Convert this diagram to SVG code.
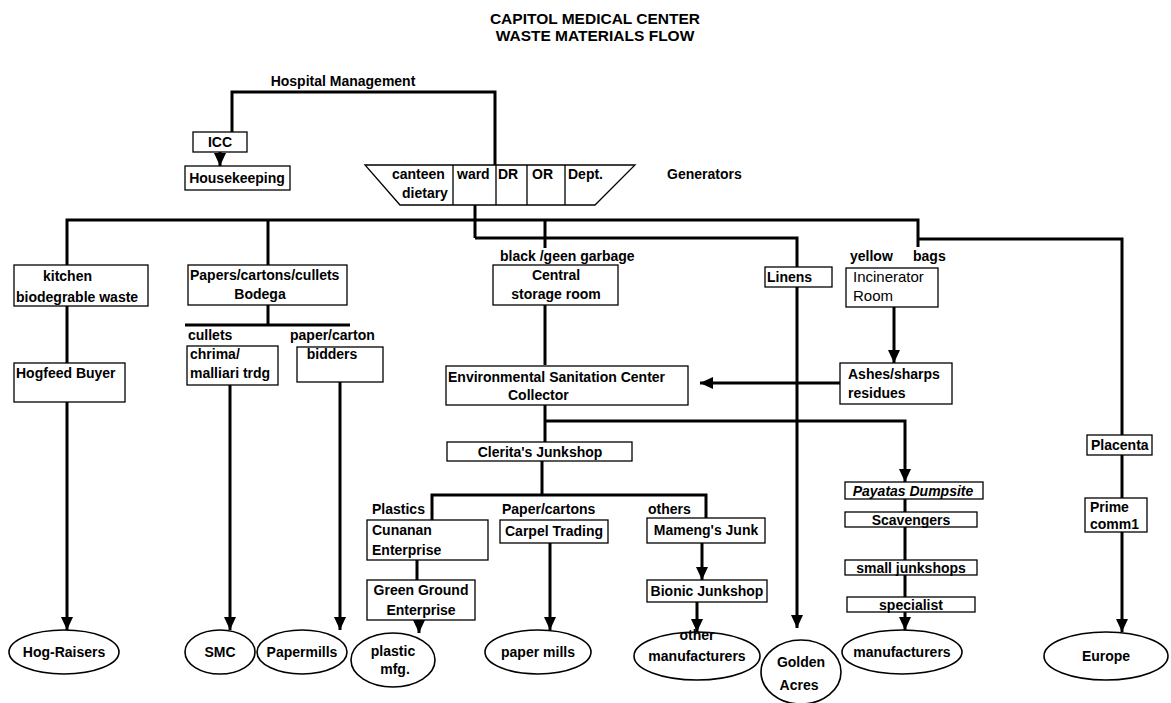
<svg xmlns="http://www.w3.org/2000/svg" width="1171" height="703" viewBox="0 0 1171 703">
<defs>
<marker id="ah" markerWidth="14" markerHeight="14" refX="13" refY="7" orient="auto" markerUnits="userSpaceOnUse"><path d="M0,1 L13,7 L0,13 Z" fill="#000"/></marker>
<style>
.t{font-family:"Liberation Sans",Arial,sans-serif;font-size:14px;font-weight:bold;fill:#000}
.m{text-anchor:middle}
.r{font-weight:normal}
.b{fill:#fff;stroke:#000;stroke-width:1.3}
.e{fill:#fff;stroke:#000;stroke-width:1.6}
.c{fill:none;stroke:#000;stroke-width:3}
.a{marker-end:url(#ah)}
</style>
</defs>
<rect width="1171" height="703" fill="#fff"/>

<g id="title">
<text class="t m" x="595" y="24" style="font-size:15.5px">CAPITOL MEDICAL CENTER</text>
<text class="t m" x="595" y="41" style="font-size:15.5px">WASTE MATERIALS FLOW</text>
</g>

<g id="connectors">
<path class="c" d="M232,132 V92 H495 V165"/>
<path class="c a" d="M220,152 V166"/>
<path class="c" d="M475,205 V238"/>
<path class="c" d="M67,265 V220 H918 V247"/>
<path class="c" d="M268,220 V265"/>
<path class="c" d="M545,220 V248"/>
<path class="c" d="M475,238 H797 V267"/>
<path class="c a" d="M797,287 V628"/>
<path class="c" d="M918,239 H1122 V435"/>
<path class="c" d="M67,306 V363"/>
<path class="c a" d="M67,402 V630"/>
<path class="c" d="M268,305 V325 M185,325 H350"/>
<path class="c a" d="M230,385 V630"/>
<path class="c a" d="M340,382 V630"/>
<path class="c" d="M545,305 V365"/>
<path class="c" d="M545,405 V442"/>
<path class="c a" d="M545,421 H905 V482"/>
<path class="c a" d="M894,307 V363"/>
<path class="c a" d="M840,383 H700"/>
<path class="c" d="M542,461 V495 M432,520 V495 H706 V518"/>
<path class="c" d="M417,560 V580"/>
<path class="c a" d="M419,620 V633"/>
<path class="c a" d="M550,543 V630"/>
<path class="c a" d="M702,543 V580"/>
<path class="c a" d="M697,602 V632"/>
<path class="c" d="M905,499 V512 M905,527 V560 M905,575 V597"/>
<path class="c a" d="M905,612 V630"/>
<path class="c" d="M1122,455 V498"/>
<path class="c a" d="M1122,532 V632"/>
</g>

<g id="hospital-management"><text class="t m" x="343" y="86">Hospital Management</text></g>

<g id="icc"><rect class="b" x="193" y="132" width="54" height="20"/><text class="t m" x="220" y="147">ICC</text></g>

<g id="housekeeping"><rect class="b" x="185" y="166" width="105" height="24"/><text class="t m" x="237" y="183">Housekeeping</text></g>

<g id="generators">
<polygon class="b" points="365,165 635,165 595,205 400,205"/>
<path d="M453,165 V205 M496,165 V205 M527,165 V205 M565,165 V205" stroke="#000" stroke-width="1.3"/>
<text class="t" x="392" y="179">canteen</text>
<text class="t" x="402" y="198">dietary</text>
<text class="t" x="457" y="179">ward</text>
<text class="t" x="498" y="179">DR</text>
<text class="t" x="532" y="179">OR</text>
<text class="t" x="568" y="179">Dept.</text>
<text class="t" x="667" y="179">Generators</text>
</g>

<g id="kitchen"><rect class="b" x="14" y="265" width="134" height="41"/><text class="t" x="43" y="281">kitchen</text><text class="t" x="16" y="302">biodegrable waste</text></g>

<g id="hogfeed"><rect class="b" x="14" y="363" width="111" height="39"/><text class="t" x="16" y="378">Hogfeed Buyer</text></g>

<g id="papers"><rect class="b" x="188" y="265" width="159" height="40"/><text class="t" x="190" y="280">Papers/cartons/cullets</text><text class="t m" x="260" y="299">Bodega</text></g>

<g id="cullets-label"><text class="t" x="188" y="340">cullets</text></g>
<g id="chrima"><rect class="b" x="187" y="346" width="91" height="39"/><text class="t" x="190" y="359">chrima/</text><text class="t" x="190" y="378">malliari trdg</text></g>

<g id="paper-carton-label"><text class="t" x="290" y="340">paper/carton</text></g>
<g id="bidders"><rect class="b" x="297" y="347" width="86" height="35"/><text class="t m" x="332" y="359">bidders</text></g>

<g id="black-label"><text class="t" x="500" y="261">black /geen garbage</text></g>
<g id="central"><rect class="b" x="493" y="265" width="125" height="40"/><text class="t m" x="556" y="280">Central</text><text class="t m" x="556" y="299">storage room</text></g>

<g id="linens"><rect class="b" x="765" y="267" width="67" height="20"/><text class="t" x="767" y="282">Linens</text></g>

<g id="yellow-label"><text class="t" x="850" y="261">yellow</text><text class="t" x="913" y="261">bags</text></g>
<g id="incinerator"><rect class="b" x="846" y="268" width="92" height="39"/><text class="t r" x="853" y="282" style="font-size:15px">Incinerator</text><text class="t r" x="853" y="301" style="font-size:15px">Room</text></g>

<g id="ashes"><rect class="b" x="840" y="363" width="112" height="41"/><text class="t" x="848" y="379">Ashes/sharps</text><text class="t" x="848" y="398">residues</text></g>

<g id="esc"><rect class="b" x="446" y="366" width="242" height="39"/><text class="t" x="448" y="382">Environmental Sanitation Center</text><text class="t" x="508" y="400">Collector</text></g>

<g id="clerita"><rect class="b" x="447" y="442" width="185" height="19"/><text class="t m" x="540" y="457">Clerita's Junkshop</text></g>

<g id="plastics-label"><text class="t" x="372" y="514">Plastics</text></g>
<g id="cunanan"><rect class="b" x="367" y="520" width="121" height="40"/><text class="t" x="372" y="535">Cunanan</text><text class="t" x="372" y="555">Enterprise</text></g>
<g id="greenground"><rect class="b" x="367" y="580" width="108" height="40"/><text class="t m" x="421" y="595">Green Ground</text><text class="t m" x="421" y="615">Enterprise</text></g>

<g id="paper-cartons-label"><text class="t" x="502" y="514">Paper/cartons</text></g>
<g id="carpel"><rect class="b" x="500" y="520" width="108" height="23"/><text class="t m" x="554" y="536">Carpel Trading</text></g>

<g id="others-label"><text class="t" x="648" y="514">others</text></g>
<g id="mameng"><rect class="b" x="647" y="518" width="118" height="25"/><text class="t m" x="706" y="535">Mameng's Junk</text></g>
<g id="bionic"><rect class="b" x="647" y="580" width="120" height="22"/><text class="t m" x="707" y="596">Bionic Junkshop</text></g>

<g id="payatas"><rect class="b" x="845" y="482" width="138" height="17"/><text class="t m" x="913" y="496" style="font-style:italic">Payatas Dumpsite</text></g>
<g id="scavengers"><rect class="b" x="845" y="512" width="132" height="15"/><text class="t m" x="911" y="525">Scavengers</text></g>
<g id="smalljunk"><rect class="b" x="845" y="560" width="132" height="15"/><text class="t m" x="911" y="573">small junkshops</text></g>
<g id="specialist"><rect class="b" x="847" y="597" width="128" height="15"/><text class="t m" x="911" y="610">specialist</text></g>

<g id="placenta"><rect class="b" x="1087" y="435" width="65" height="20"/><text class="t" x="1091" y="450">Placenta</text></g>
<g id="prime"><rect class="b" x="1085" y="498" width="62" height="34"/><text class="t" x="1090" y="512">Prime</text><text class="t" x="1090" y="529">comm1</text></g>

<g id="hog-raisers"><ellipse class="e" cx="64" cy="652" rx="55" ry="22"/><text class="t m" x="64" y="657">Hog-Raisers</text></g>
<g id="smc"><ellipse class="e" cx="220" cy="652" rx="35" ry="22"/><text class="t m" x="220" y="657">SMC</text></g>
<g id="papermills"><ellipse class="e" cx="302" cy="652" rx="45" ry="22"/><text class="t m" x="302" y="657">Papermills</text></g>
<g id="plastic-mfg"><ellipse class="e" cx="393" cy="660" rx="42" ry="27"/><text class="t m" x="393" y="656">plastic</text><text class="t m" x="395" y="674">mfg.</text></g>
<g id="paper-mills"><ellipse class="e" cx="538" cy="652" rx="53" ry="22"/><text class="t m" x="538" y="657">paper mills</text></g>
<g id="other-manufacturers"><ellipse class="e" cx="697" cy="656" rx="63" ry="24"/><text class="t m" x="697" y="640">other</text><text class="t m" x="697" y="661">manufacturers</text></g>
<g id="golden-acres"><ellipse class="e" cx="801" cy="672" rx="40" ry="32"/><text class="t m" x="801" y="667">Golden</text><text class="t m" x="799" y="690">Acres</text></g>
<g id="manufacturers"><ellipse class="e" cx="902" cy="652" rx="60" ry="22"/><text class="t m" x="902" y="657">manufacturers</text></g>
<g id="europe"><ellipse class="e" cx="1106" cy="656" rx="62" ry="24"/><text class="t m" x="1106" y="661">Europe</text></g>
</svg>
